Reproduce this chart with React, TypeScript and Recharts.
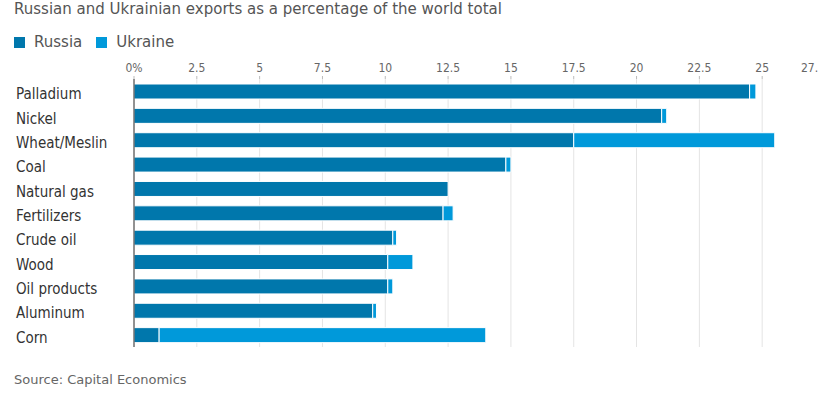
import { BarChart, Bar, XAxis, YAxis, CartesianGrid } from "recharts"

const CATEGORIES = [
    "Palladium",
    "Nickel",
    "Wheat/Meslin",
    "Coal",
    "Natural gas",
    "Fertilizers",
    "Crude oil",
    "Wood",
    "Oil products",
    "Aluminum",
    "Corn"
]
const RUSSIA = [24.5, 21.0, 17.5, 14.8, 12.5, 12.3, 10.3, 10.1, 10.1, 9.5, 1.0]
const UKRAINE = [0.25, 0.2, 8.0, 0.2, 0, 0.4, 0.15, 1.0, 0.2, 0.15, 13.0]
const X_TICKS = [0, 2.5, 5, 7.5, 10, 12.5, 15, 17.5, 20, 22.5, 25, 27.5]

const RUSSIA_COLOR = "#0077ac"
const UKRAINE_COLOR = "#0099da"
const FONT = "'DejaVu Sans', sans-serif"
const NARROW = "'DejaVu Sans Condensed', 'DejaVu Sans', sans-serif"

const data = CATEGORIES.map((name, i) => ({ name, russia: RUSSIA[i], ukraine: UKRAINE[i] }))

function XTick({ x, y, payload }: any) {
    const v = payload.value
    const label = v === 0 ? "0%" : String(v)
    // last label sits against the right edge, like the original
    const shift = v === X_TICKS[X_TICKS.length - 1] ? -12 : 0
    return (
        <text x={x + shift} y={y} dy={-2} textAnchor="middle" fill="#666" fontSize={12} fontFamily={NARROW}>
            {label}
        </text>
    )
}

function YTick({ y, payload }: any) {
    return (
        <text x={16} y={y} dy={8} textAnchor="start" fill="#333" fontSize={15} fontFamily={NARROW}>
            {payload.value}
        </text>
    )
}

function LegendItem({ color, label }: { color: string; label: string }) {
    return (
        <span style={{ display: "inline-flex", alignItems: "center", marginRight: 14 }}>
            <span style={{ width: 11, height: 11, background: color, display: "inline-block", marginRight: 9 }} />
            <span>{label}</span>
        </span>
    )
}

export default function App() {
    return (
        <div style={{ position: "absolute", left: 0, top: 0, width: 818, height: 398, overflow: "hidden", background: "#fff", fontFamily: FONT }}>
            <div style={{ position: "absolute", left: 14, top: 0, fontSize: 15, lineHeight: "19px", color: "#555" }}>
                Russian and Ukrainian exports as a percentage of the world total
            </div>
            <div style={{ position: "absolute", left: 14, top: 32, fontSize: 15, lineHeight: "20px", color: "#555", display: "flex" }}>
                <LegendItem color={RUSSIA_COLOR} label="Russia" />
                <LegendItem color={UKRAINE_COLOR} label="Ukraine" />
            </div>
            <div style={{ position: "absolute", left: 0, top: 0 }}>
                <BarChart
                    width={845}
                    height={360}
                    data={data}
                    layout="vertical"
                    margin={{ top: 54, right: 20, bottom: 13, left: 0 }}
                    barSize={15}
                >
                    <CartesianGrid horizontal={false} stroke="#e4e4e4" />
                    <XAxis
                        type="number"
                        orientation="top"
                        domain={[0, 27.5]}
                        ticks={X_TICKS}
                        height={25}
                        axisLine={false}
                        tickLine={{ stroke: "#bbb" }}
                        tickSize={3}
                        tick={<XTick />}
                        interval={0}
                    />
                    <YAxis
                        type="category"
                        dataKey="name"
                        width={134}
                        axisLine={{ stroke: "#333" }}
                        tickLine={false}
                        tick={<YTick />}
                        interval={0}
                    />
                    <Bar dataKey="russia" stackId="a" fill={RUSSIA_COLOR} stroke="#fff" strokeWidth={1} isAnimationActive={false} />
                    <Bar dataKey="ukraine" stackId="a" fill={UKRAINE_COLOR} stroke="#fff" strokeWidth={1} isAnimationActive={false} />
                </BarChart>
            </div>
            <div style={{ position: "absolute", left: 14, top: 370, fontSize: 13, lineHeight: "20px", color: "#666" }}>
                Source: Capital Economics
            </div>
        </div>
    )
}
